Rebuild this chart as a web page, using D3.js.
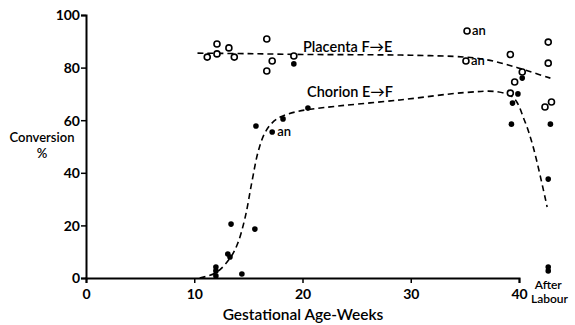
<!DOCTYPE html>
<html>
<head>
<meta charset="utf-8">
<script src="https://cdn.jsdelivr.net/npm/d3@7"></script>
<style>
  body { margin: 0; background: #fff; }
  svg { display: block; font-family: Lato, "DejaVu Sans", sans-serif; }
</style>
</head>
<body>
<div id="chart"></div>
<script>
const WIDTH = 575;
const HEIGHT = 325;
const AFTER_LABOUR = 42.7;   // x position used for the "After Labour" column

const xTicks = [0, 10, 20, 30, 40];
const yTicks = [0, 20, 40, 60, 80, 100];

// open circles: [weeks, conversion %]
const openPoints = [
  [11.2, 84], [12.1, 89], [12.1, 85.2], [13.2, 87.5], [13.7, 84],
  [16.7, 90.9], [17.2, 82.5], [16.7, 78.7], [19.2, 84.4],
  [35.2, 93.9], [35.1, 82.5],
  [39.2, 85], [40.3, 78.3], [39.6, 74.5], [39.2, 70.3],
  [AFTER_LABOUR, 89.7], [AFTER_LABOUR, 81.7], [42.4, 65], [43.0, 66.9]
];

// filled dots
const filledPoints = [
  [12.0, 0.8], [12.0, 2.7], [12.0, 4.2], [13.1, 9.1], [13.3, 8],
  [13.4, 20.5], [14.4, 1.5], [15.6, 18.6],
  [15.7, 57.8], [17.2, 55.5], [18.2, 60.5], [20.5, 64.6], [19.2, 81.4],
  [39.9, 70], [39.4, 66.5], [39.3, 58.5], [40.3, 76],
  [42.9, 58.5], [AFTER_LABOUR, 37.6], [AFTER_LABOUR, 4.2], [AFTER_LABOUR, 2.7]
];

// "an" notes next to some points
const anNotes = [[35.2, 93.9], [35.1, 82.5], [17.2, 55.5]];

// fitted dashed curves
const placentaCurve = [
  [10.3, 85.5], [15, 85.3], [20, 85], [25, 84.9], [30, 84.7], [35, 84],
  [37, 83], [39, 81], [41, 78.5], [42.9, 76]
];
const chorionCurve = [
  [10.5, 0], [12, 2], [13.3, 7.5], [14, 13], [14.7, 23], [15.3, 36],
  [15.9, 48], [16.5, 55], [17.2, 59], [18, 61.3], [19.5, 63.3], [22, 64.8],
  [29, 67.7], [35, 70.5], [38, 70.8], [39.5, 68.5], [40.5, 60],
  [41.3, 50], [42.6, 27]
];

const svg = d3.select("#chart")
  .append("svg")
  .attr("width", WIDTH)
  .attr("height", HEIGHT);

const x = d3.scaleLinear().domain([0, 40]).range([86, 519]);
const y = d3.scaleLinear().domain([0, 100]).range([278, 15]);

// axes
const xAxis = svg.append("g")
  .attr("transform", `translate(0,${y(0)})`)
  .call(d3.axisBottom(x).tickValues(xTicks).tickSize(5).tickPadding(6));
const yAxis = svg.append("g")
  .attr("transform", `translate(${x(0)},0)`)
  .call(d3.axisLeft(y).tickValues(yTicks).tickSize(5).tickPadding(1));

[xAxis, yAxis].forEach(g => {
  g.select(".domain").attr("stroke", "#000").attr("stroke-width", 2);
  g.selectAll(".tick line").attr("stroke", "#000").attr("stroke-width", 1.5);
  g.selectAll(".tick text")
    .attr("fill", "#000")
    .style("font-size", "14px")
    .style("font-weight", "700")
    .style("font-family", "Lato, sans-serif");
});
yAxis.selectAll(".tick text").attr("dy", "0.35em");

// dashed curves
const line = d3.line()
  .x(d => x(d[0]))
  .y(d => y(d[1]))
  .curve(d3.curveCatmullRom);

svg.append("path")
  .datum(placentaCurve)
  .attr("d", line)
  .attr("fill", "none")
  .attr("stroke", "#000")
  .attr("stroke-width", 1.6)
  .attr("stroke-dasharray", "6,4");

svg.append("path")
  .datum(chorionCurve)
  .attr("d", line)
  .attr("fill", "none")
  .attr("stroke", "#000")
  .attr("stroke-width", 1.6)
  .attr("stroke-dasharray", "6,4");

// points
svg.selectAll("circle.open")
  .data(openPoints)
  .join("circle")
  .attr("class", "open")
  .attr("cx", d => x(d[0]))
  .attr("cy", d => y(d[1]))
  .attr("r", 3)
  .attr("fill", "#fff")
  .attr("stroke", "#000")
  .attr("stroke-width", 1.6);

svg.selectAll("circle.filled")
  .data(filledPoints)
  .join("circle")
  .attr("class", "filled")
  .attr("cx", d => x(d[0]))
  .attr("cy", d => y(d[1]))
  .attr("r", 2.8)
  .attr("fill", "#000");

svg.selectAll("text.an")
  .data(anNotes)
  .join("text")
  .attr("class", "an")
  .attr("x", d => x(d[0]) + 5)
  .attr("y", d => y(d[1]) + 4)
  .style("font-size", "13px")
  .style("font-weight", "600")
  .text("an");

// text labels
const labels = svg.append("g")
  .style("font-size", "14.5px")
  .style("font-weight", "600")
  .attr("fill", "#000");

labels.append("text").attr("x", 303).attr("y", 52).text("Placenta  F\u2192E");
labels.append("text").attr("x", 307).attr("y", 97).text("Chorion  E\u2192F");
labels.append("text").attr("x", 42).attr("y", 142).attr("text-anchor", "middle")
  .style("font-size", "13px").text("Conversion");
labels.append("text").attr("x", 42).attr("y", 158).attr("text-anchor", "middle")
  .style("font-size", "13px").text("%");
labels.append("text").attr("x", 303).attr("y", 320).attr("text-anchor", "middle")
  .style("font-size", "15.5px").text("Gestational Age-Weeks");
labels.append("text").attr("x", x(AFTER_LABOUR)).attr("y", 289).attr("text-anchor", "middle")
  .style("font-size", "12px").text("After");
labels.append("text").attr("x", 531).attr("y", 303)
  .style("font-size", "12px").text("Labour");
</script>
</body>
</html>
